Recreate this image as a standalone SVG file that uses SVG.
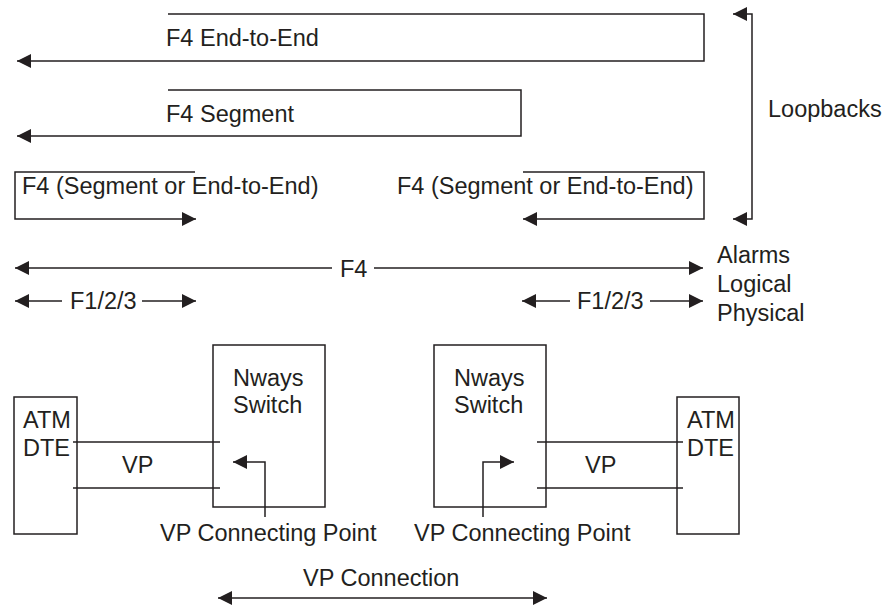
<svg xmlns="http://www.w3.org/2000/svg" width="887" height="609" viewBox="0 0 887 609">
<style>
text{font-family:"Liberation Sans",Arial,sans-serif;font-size:23.5px;fill:#231f20}
.ln{fill:none;stroke:#231f20;stroke-width:1.5}
.box{fill:none;stroke:#231f20;stroke-width:1.5}
</style>
<defs>
<marker id="ah" markerUnits="userSpaceOnUse" markerWidth="14" markerHeight="14" refX="13" refY="6.5" orient="auto-start-reverse" viewBox="0 0 13 13">
<path d="M0,0 L13,6.5 L0,13 z" fill="#231f20"/>
</marker>
</defs>
<rect width="887" height="609" fill="#fff"/>
<g id="connectors">
<path class="ln" d="M168,14 H704 V61 H17" marker-end="url(#ah)"/>
<path class="ln" d="M168,90 H521 V136 H17" marker-end="url(#ah)"/>
<path class="ln" d="M195,172 H15 V219 H196" marker-end="url(#ah)"/>
<path class="ln" d="M523,172 H704 V219 H523" marker-end="url(#ah)"/>
<path class="ln" d="M733,14 H752 V219 H733" marker-start="url(#ah)" marker-end="url(#ah)"/>
<line class="ln" x1="15" y1="268" x2="332" y2="268" marker-start="url(#ah)"/>
<line class="ln" x1="374" y1="268" x2="703" y2="268" marker-end="url(#ah)"/>
<line class="ln" x1="15" y1="301" x2="62" y2="301" marker-start="url(#ah)"/>
<line class="ln" x1="142" y1="301" x2="196" y2="301" marker-end="url(#ah)"/>
<line class="ln" x1="522" y1="301" x2="570" y2="301" marker-start="url(#ah)"/>
<line class="ln" x1="650" y1="301" x2="703" y2="301" marker-end="url(#ah)"/>
<line class="ln" x1="73" y1="442" x2="220" y2="442"/>
<line class="ln" x1="73" y1="488" x2="220" y2="488"/>
<line class="ln" x1="537" y1="442" x2="683" y2="442"/>
<line class="ln" x1="537" y1="488" x2="683" y2="488"/>
<path class="ln" d="M265,517 V462 H233" marker-end="url(#ah)"/>
<path class="ln" d="M483,517 V462 H514" marker-end="url(#ah)"/>
<line class="ln" x1="218" y1="598" x2="547" y2="598" marker-start="url(#ah)" marker-end="url(#ah)"/>
</g>
<g id="labels">
<text x="166" y="46">F4 End-to-End</text>
<text x="166" y="122">F4 Segment</text>
<text x="22" y="194">F4 (Segment or End-to-End)</text>
<text x="397" y="194">F4 (Segment or End-to-End)</text>
<text x="768" y="117">Loopbacks</text>
<text x="340" y="277">F4</text>
<text x="70" y="309">F1/2/3</text>
<text x="577" y="309">F1/2/3</text>
<text x="717" y="263">Alarms</text>
<text x="717" y="292">Logical</text>
<text x="717" y="321">Physical</text>
<text x="122" y="473">VP</text>
<text x="585" y="473">VP</text>
<text x="160" y="541">VP Connecting Point</text>
<text x="414" y="541">VP Connecting Point</text>
<text x="303" y="586">VP Connection</text>
</g>
<g id="dte-left">
<rect class="box" x="14" y="397" width="63" height="137"/>
<text x="23" y="428">ATM</text>
<text x="23" y="456">DTE</text>
</g>
<g id="switch-left">
<rect class="box" x="213" y="345" width="112" height="162"/>
<text x="233" y="386">Nways</text>
<text x="233" y="413">Switch</text>
</g>
<g id="switch-right">
<rect class="box" x="434" y="345" width="112" height="162"/>
<text x="454" y="386">Nways</text>
<text x="454" y="413">Switch</text>
</g>
<g id="dte-right">
<rect class="box" x="677" y="397" width="62" height="137"/>
<text x="687" y="428">ATM</text>
<text x="687" y="456">DTE</text>
</g>
</svg>
